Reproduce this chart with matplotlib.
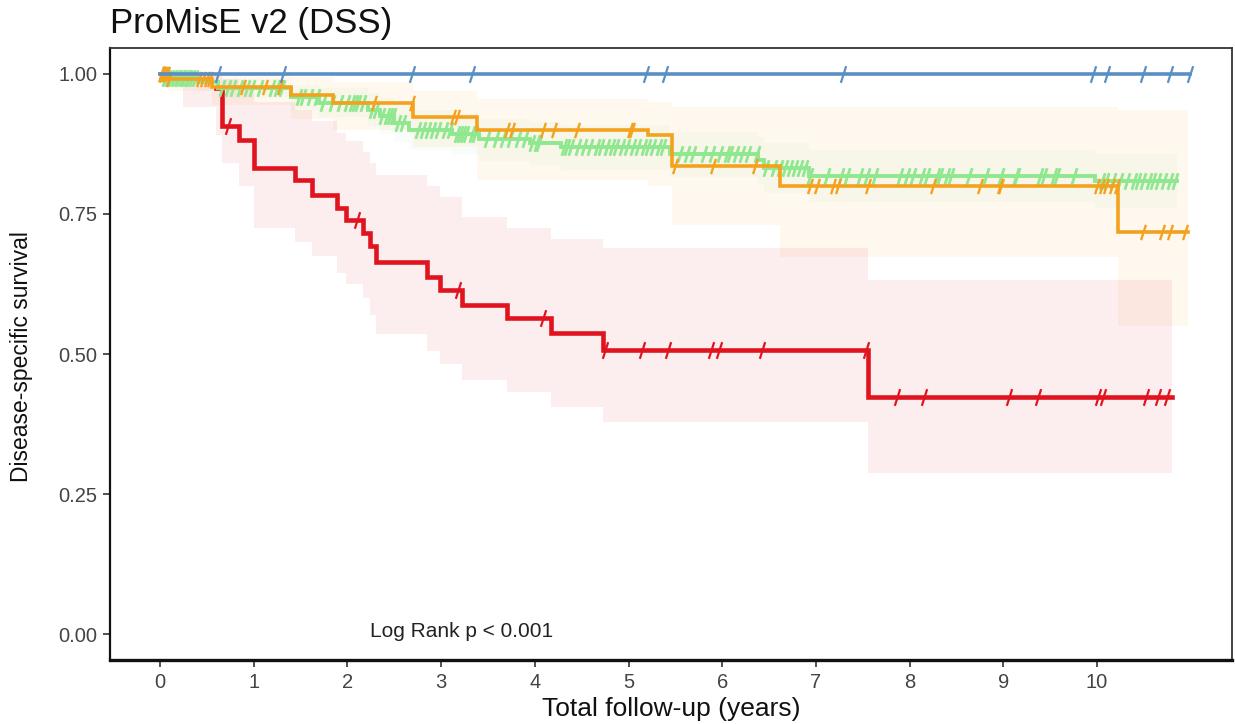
import numpy as np
import matplotlib
matplotlib.use("Agg")
import matplotlib.pyplot as plt
from matplotlib.path import Path

plt.rcParams['font.family'] = ['Liberation Sans', 'DejaVu Sans']

# ---------------- data ----------------
title = "ProMisE v2 (DSS)"
x_ticks = [0, 1, 2, 3, 4, 5, 6, 7, 8, 9, 10]
y_ticks = [0.00, 0.25, 0.50, 0.75, 1.00]
y_tick_labels = ["0.00", "0.25", "0.50", "0.75", "1.00"]

# Blue group (no events)
blue_end = 10.99
blue_censor = [0.62, 1.31, 2.69, 3.33, 5.19, 5.39, 7.29, 9.96, 10.11, 10.49, 10.78, 10.99]

# Green group
green_t = [0.05, 0.40, 0.62, 1.40, 1.70, 2.22, 2.35, 2.50, 2.66, 3.12, 3.40, 3.95,
           4.28, 5.44, 6.38, 6.45, 6.93, 9.98]
green_s = [0.993, 0.985, 0.975, 0.958, 0.948, 0.936, 0.925, 0.912, 0.900, 0.892,
           0.883, 0.876, 0.869, 0.857, 0.846, 0.832, 0.818, 0.808]
green_up = [1.0, 1.0, 0.99, 0.98, 0.975, 0.965, 0.957, 0.946, 0.936, 0.928, 0.92,
            0.914, 0.908, 0.897, 0.888, 0.876, 0.864, 0.857]
green_lo = [0.979, 0.969, 0.956, 0.935, 0.922, 0.907, 0.893, 0.878, 0.864, 0.855,
            0.845, 0.837, 0.829, 0.816, 0.803, 0.788, 0.772, 0.76]
green_end = 10.85
green_censor = [0.02, 0.05, 0.08, 0.12, 0.15, 0.18, 0.20, 0.23, 0.26, 0.29, 0.31, 0.34, 0.37,
                0.66, 0.73, 0.78, 0.85, 0.93, 0.98, 1.07, 1.19, 1.25, 1.30,
                1.48, 1.53, 1.60, 1.68, 1.74, 1.84, 1.92,
                1.99, 2.05, 2.08, 2.11, 2.17, 2.26, 2.31, 2.37, 2.42, 2.45, 2.49, 2.54, 2.59,
                2.75, 2.81, 2.86, 2.91, 2.97, 3.04, 3.09, 3.17, 3.20, 3.23, 3.27, 3.33, 3.36,
                3.49, 3.59, 3.66, 3.74, 3.82, 3.90, 3.97, 4.02, 4.04,
                4.31, 4.34, 4.39, 4.46, 4.52, 4.59, 4.66, 4.71, 4.77, 4.82, 4.87, 4.93, 4.98,
                5.05, 5.10, 5.16, 5.21, 5.26, 5.32, 5.37,
                5.55, 5.62, 5.69, 5.80, 5.89, 5.98, 6.05, 6.08, 6.15, 6.21, 6.28, 6.37,
                6.47, 6.55, 6.62, 6.67, 6.72, 6.78, 6.83, 6.88, 6.94,
                7.12, 7.27, 7.33, 7.47, 7.54, 7.63, 7.90, 7.97, 8.04,
                8.13, 8.18, 8.29, 8.32, 8.40, 8.44, 8.63, 8.81, 8.97, 9.13, 9.15, 9.39, 9.43,
                9.54, 9.57, 9.75,
                10.05, 10.10, 10.17, 10.25, 10.32, 10.39, 10.44, 10.49, 10.55, 10.60, 10.65,
                10.71, 10.78, 10.83]

# Orange group
orange_t = [0.08, 0.55, 1.40, 1.85, 2.70, 3.38, 5.21, 5.46, 6.62, 10.22]
orange_s = [0.990, 0.977, 0.962, 0.948, 0.923, 0.900, 0.891, 0.836, 0.799, 0.718]
orange_up = [1.0, 1.0, 0.995, 0.985, 0.97, 0.955, 0.95, 0.94, 0.94, 0.936]
orange_lo = [0.97, 0.945, 0.92, 0.90, 0.87, 0.81, 0.80, 0.73, 0.673, 0.55]
orange_end = 10.97
orange_censor = [0.01, 0.02, 0.03, 0.05, 0.06, 0.07, 0.10, 0.42, 0.46, 0.50, 0.53, 0.89, 1.12,
                 1.28, 2.28, 2.69, 3.13, 3.17, 3.70, 3.76, 4.09, 4.20, 4.45, 5.02, 5.04, 5.50,
                 5.90, 6.35, 6.94, 7.01, 7.18, 7.24, 7.56, 8.25, 8.75, 8.96, 8.98, 10.00,
                 10.05, 10.10, 10.16, 10.21, 10.49, 10.69, 10.78, 10.94]

# Red group
red_t = [0.60, 0.66, 0.84, 1.00, 1.44, 1.62, 1.89, 1.98, 2.17, 2.24, 2.31, 2.85,
         2.99, 3.22, 3.70, 4.17, 4.73, 7.56]
red_s = [0.958, 0.906, 0.882, 0.832, 0.811, 0.784, 0.760, 0.739, 0.716, 0.692,
         0.665, 0.638, 0.614, 0.588, 0.564, 0.537, 0.508, 0.424]
red_up = [1.0, 0.99, 0.975, 0.95, 0.935, 0.915, 0.895, 0.88, 0.86, 0.84, 0.82,
          0.80, 0.78, 0.745, 0.725, 0.705, 0.69, 0.632]
red_lo = [0.89, 0.84, 0.80, 0.725, 0.70, 0.675, 0.645, 0.625, 0.60, 0.57, 0.535,
          0.505, 0.483, 0.454, 0.433, 0.406, 0.378, 0.287]
red_band_start = 0.25
red_band_start_lo = 0.94
red_end = 10.80
red_censor = [0.73, 2.10, 3.18, 4.09, 4.75, 5.14, 5.42, 5.88, 5.96, 6.42, 7.53, 7.87,
              8.15, 9.06, 9.37, 10.01, 10.06, 10.52, 10.65, 10.75]

annotation = "Log Rank p < 0.001"

# ---------------- styling ----------------
c_blue = '#5a8fc6'
c_green = '#8fe88f'
c_orange = '#f4a11d'
c_red = '#e0141e'

slash = Path([(-0.32, -1.0), (0.32, 1.0)], [Path.MOVETO, Path.LINETO])

fig = plt.figure(figsize=(12.35, 7.24), dpi=100)
ax = fig.add_axes([110 / 1235, 1 - 660 / 724, (1232 - 110) / 1235, (660 - 48) / 724])


def steps(t, s, end):
    tt = np.concatenate([[0.0], t, [end]])
    ss = np.concatenate([[1.0], s, [s[-1]]])
    return tt, ss


def surv_at(t, s, x):
    tt = np.concatenate([[0.0], t])
    ss = np.concatenate([[1.0], s])
    idx = np.searchsorted(tt, x, side='right') - 1
    return ss[idx]


def draw_band(t, up, lo, end, color, alpha, pre=None):
    tt = np.concatenate([[0.0], t, [end]])
    uu = np.concatenate([[1.0], up, [up[-1]]])
    ll = np.concatenate([[1.0], lo, [lo[-1]]])
    if pre is not None:
        tt = np.concatenate([[0.0, pre[0]], t, [end]])
        uu = np.concatenate([[1.0, 1.0], up, [up[-1]]])
        ll = np.concatenate([[1.0, pre[1]], lo, [lo[-1]]])
    ax.fill_between(tt, ll, uu, step='post', color=color, alpha=alpha,
                    linewidth=0, zorder=1)


def draw(t, s, end, censor, color, lw, ms, mew, z, skip_top=False):
    t = np.asarray(t, float)
    s = np.asarray(s, float)
    tt, ss = steps(t, s, end)
    if skip_top:
        # initial S=1 segment is hidden under the other curves in the reference
        tt = tt[1:]
        ss = np.concatenate([[0.975], ss[2:]])
        tt = np.concatenate([[tt[0]], tt])
        ss = np.concatenate([[0.975], ss])
    ax.step(tt, ss, where='post', color=color, lw=lw, zorder=z, solid_joinstyle='miter')
    cx = np.asarray(censor, float)
    cy = surv_at(t, s, cx)
    ax.plot(cx, cy, linestyle='none', marker=slash, markersize=ms,
            markeredgecolor=color, markeredgewidth=mew, zorder=z + 0.1)


draw_band(green_t, green_up, green_lo, green_end, c_green, 0.05)
draw_band(orange_t, orange_up, orange_lo, orange_end, c_orange, 0.07)
draw_band(red_t, red_up, red_lo, red_end, c_red, 0.075, pre=(red_band_start, red_band_start_lo))

draw(red_t, red_s, red_end, red_censor, c_red, 3.3, 12, 1.6, 2.5, skip_top=True)
draw(green_t, green_s, green_end, green_censor, c_green, 2.8, 12, 2.0, 3)
draw(orange_t, orange_s, orange_end, orange_censor, c_orange, 2.6, 11, 1.7, 4)
# blue: no events
ax.plot([0, blue_end], [1.0, 1.0], color=c_blue, lw=2.6, zorder=6)
ax.plot(blue_censor, [1.0] * len(blue_censor), linestyle='none', marker=slash, markersize=12,
        markeredgecolor=c_blue, markeredgewidth=1.6, zorder=6.1)

ax.set_xlim(-0.534, 11.44)
ax.set_ylim(-0.046, 1.046)
ax.set_xticks(x_ticks)
ax.set_xticklabels([str(v) for v in x_ticks])
ax.set_yticks(y_ticks)
ax.set_yticklabels(y_tick_labels)
ax.tick_params(axis='both', direction='out', length=5, width=1.2, color='#333333',
               labelcolor='#444444', labelsize=14.5, pad=4)

for side in ['top', 'right']:
    ax.spines[side].set_linewidth(1.3)
    ax.spines[side].set_color('#333333')
ax.spines['left'].set_linewidth(1.6)
ax.spines['left'].set_color('#111111')
ax.spines['bottom'].set_linewidth(2.4)
ax.spines['bottom'].set_color('#111111')

ax.text(2.24, 0.005, annotation, fontsize=15, color='#222222', ha='left', va='center')

fig.text(110 / 1235, 1 - 33 / 724, title, fontsize=25, color='#111111', ha='left', va='baseline')
fig.text(671 / 1235, 1 - 709 / 724, "Total follow-up (years)", fontsize=19, color='#111111',
         ha='center', va='center')
fig.text(22 / 1235, 1 - 357 / 724, "Disease-specific survival", fontsize=16.5, color='#111111',
         ha='center', va='center', rotation=90)

fig.savefig("out.png", dpi=100, facecolor='white')
